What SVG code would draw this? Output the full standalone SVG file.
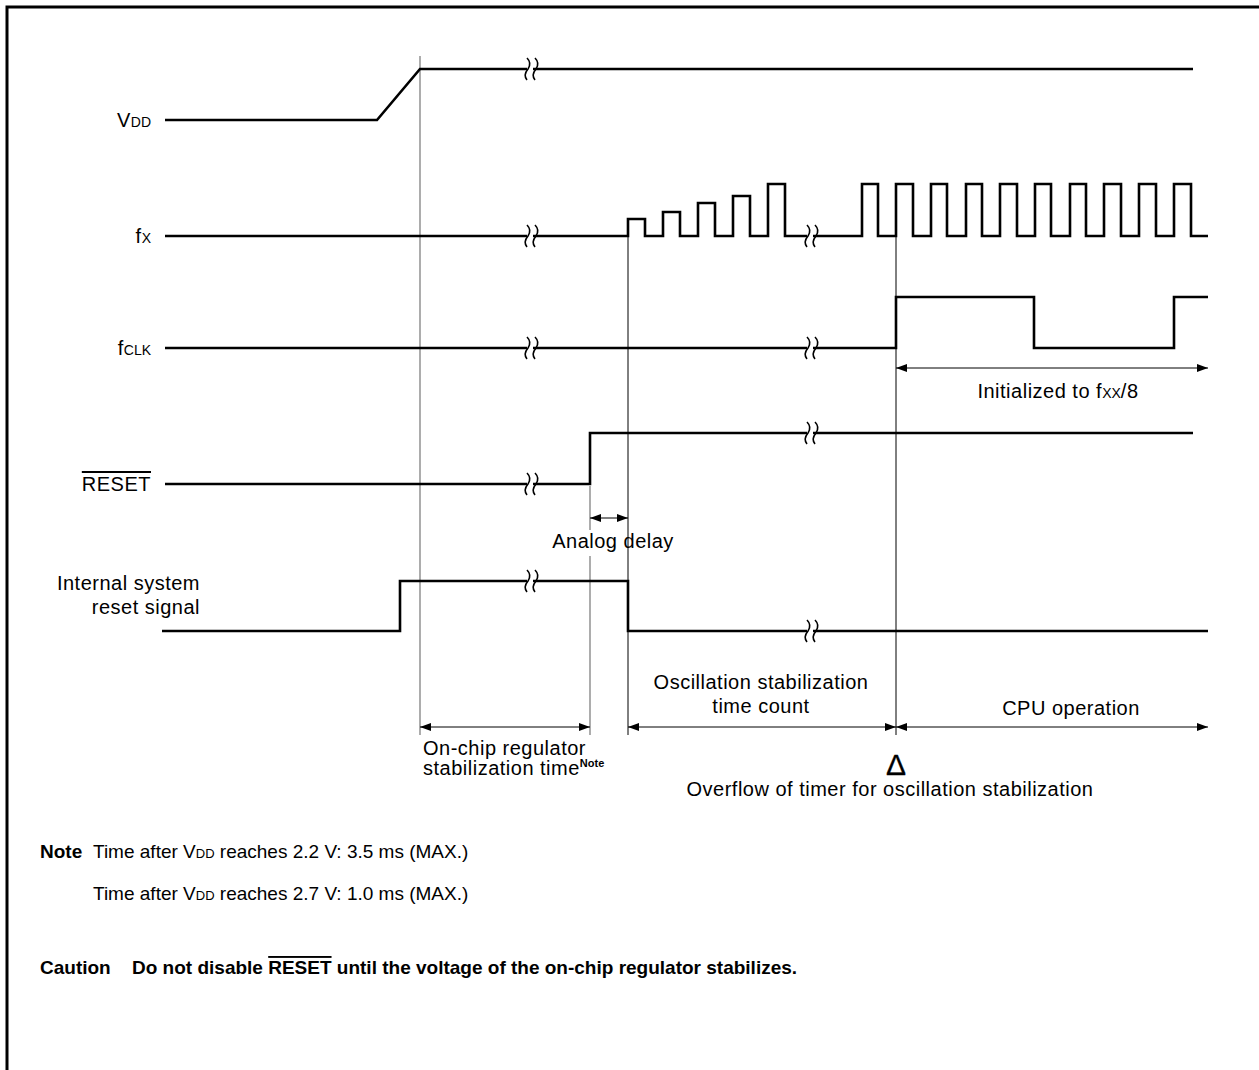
<svg xmlns="http://www.w3.org/2000/svg" xmlns:xlink="http://www.w3.org/1999/xlink" width="1259" height="1070" viewBox="0 0 1259 1070">
<style>
.t{font-family:"Liberation Sans",Arial,Helvetica,sans-serif;font-size:20px;letter-spacing:0.5px;fill:#000}
.n{font-family:"Liberation Sans",Arial,Helvetica,sans-serif;font-size:19px;fill:#000}
.b{font-family:"Liberation Sans",Arial,Helvetica,sans-serif;font-size:19px;font-weight:bold;fill:#000}
.s{font-size:14px;letter-spacing:0}
.w{fill:none;stroke:#000;stroke-width:2.6;stroke-linejoin:miter;stroke-linecap:butt}
.g{stroke:#808080;stroke-width:1.3;fill:none}
.k{stroke:#000;stroke-width:1;fill:none}
.a{stroke:#000;stroke-width:1;fill:none;marker-start:url(#ah);marker-end:url(#ah)}
.brk{fill:none;stroke:#000;stroke-width:1.6}
.delta{font-family:"Liberation Sans",Arial,Helvetica,sans-serif;font-size:30px;fill:#000;stroke:#000;stroke-width:0.3}
</style>
<defs>
<marker id="ah" markerUnits="userSpaceOnUse" markerWidth="11" markerHeight="8" refX="11" refY="4" orient="auto-start-reverse" viewBox="0 0 11 8">
<path d="M0,0 L11,4 L0,8 z" fill="#000"/>
</marker>
<g id="brk">
<rect x="-3" y="-2" width="6" height="4" fill="#fff"/>
<path class="brk" d="M-3,-11 Q2,-6 -2,0 Q-7,6 -3,11"/>
<path class="brk" d="M5,-11 Q10,-6 6,0 Q1,6 5,11"/>
</g>
</defs>
<rect width="1259" height="1070" fill="#fff"/>
<path d="M7,1070 V7 H1259" fill="none" stroke="#000" stroke-width="3"/>

<g id="connectors">
<line class="g" x1="420" y1="56" x2="420" y2="735"/>
<line class="g" x1="590" y1="486" x2="590" y2="530"/>
<line class="g" x1="590" y1="556" x2="590" y2="735"/>
<line class="k" x1="628" y1="236" x2="628" y2="735"/>
<line class="k" x1="896" y1="236" x2="896" y2="735"/>
<line class="a" x1="896" y1="368" x2="1208" y2="368"/>
<line class="a" x1="590" y1="518" x2="628" y2="518"/>
<line class="a" x1="420" y1="727" x2="590" y2="727"/>
<line class="a" x1="628" y1="727" x2="896" y2="727"/>
<line class="a" x1="896" y1="727" x2="1208" y2="727"/>
</g>

<g id="vdd">
<text class="t" x="151" y="127" text-anchor="end">V<tspan class="s">DD</tspan></text>
<path class="w" d="M165,120 H377 L420,69 H1193"/>
<use xlink:href="#brk" x="530" y="69"/>
</g>

<g id="fx">
<text class="t" x="151" y="243" text-anchor="end">f<tspan class="s">X</tspan></text>
<path class="w" d="M165,236 H628 V219 H645 V236 H663 V212 H680 V236 H698 V203 H715 V236 H733 V196 H750 V236 H768 V184 H785 V236 H862 V184 H878 V236 H896 V184 H913 V236 H931 V184 H947 V236 H966 V184 H982 V236 H1000 V184 H1017 V236 H1035 V184 H1051 V236 H1070 V184 H1086 V236 H1104 V184 H1121 V236 H1139 V184 H1156 V236 H1174 V184 H1191 V236 H1208"/>
<use xlink:href="#brk" x="530" y="236"/>
<use xlink:href="#brk" x="810" y="236"/>
</g>

<g id="fclk">
<text class="t" x="151" y="355" text-anchor="end">f<tspan class="s">CLK</tspan></text>
<path class="w" d="M165,348 H896 V297 H1034 V348 H1174 V297 H1208"/>
<use xlink:href="#brk" x="530" y="348"/>
<use xlink:href="#brk" x="810" y="348"/>
<text class="t" x="1058" y="398" text-anchor="middle">Initialized to f<tspan class="s">XX</tspan>/8</text>
</g>

<g id="reset">
<text class="t" x="151" y="491" text-anchor="end" text-decoration="overline">RESET</text>
<path class="w" d="M165,484 H590 V433 H1193"/>
<use xlink:href="#brk" x="530" y="484"/>
<use xlink:href="#brk" x="810" y="433"/>
<text class="t" x="613" y="548" text-anchor="middle">Analog delay</text>
</g>

<g id="internal-reset">
<text class="t" x="200" y="590" text-anchor="end">Internal system</text>
<text class="t" x="200" y="614" text-anchor="end">reset signal</text>
<path class="w" d="M162,631 H400 V581 H628 V631 H1208"/>
<use xlink:href="#brk" x="530" y="581"/>
<use xlink:href="#brk" x="810" y="631"/>
</g>

<g id="labels">
<text class="t" x="423" y="755">On-chip regulator</text>
<text class="t" x="423" y="775">stabilization time<tspan font-size="11" font-weight="bold" dy="-8" letter-spacing="0">Note</tspan></text>
<text class="t" x="761" y="689" text-anchor="middle">Oscillation stabilization</text>
<text class="t" x="761" y="713" text-anchor="middle">time count</text>
<text class="t" x="1071" y="715" text-anchor="middle">CPU operation</text>
<text class="delta" x="896" y="775" text-anchor="middle">Δ</text>
<text class="t" x="890" y="796" text-anchor="middle">Overflow of timer for oscillation stabilization</text>
</g>

<g id="notes">
<text class="b" x="40" y="858">Note</text>
<text class="n" x="93" y="858">Time after V<tspan font-size="13">DD</tspan> reaches 2.2 V: 3.5 ms (MAX.)</text>
<text class="n" x="93" y="900">Time after V<tspan font-size="13">DD</tspan> reaches 2.7 V: 1.0 ms (MAX.)</text>
<text class="b" x="40" y="974">Caution</text>
<text class="b" x="132" y="974">Do not disable <tspan text-decoration="overline">RESET</tspan> until the voltage of the on-chip regulator stabilizes.</text>
</g>
</svg>
